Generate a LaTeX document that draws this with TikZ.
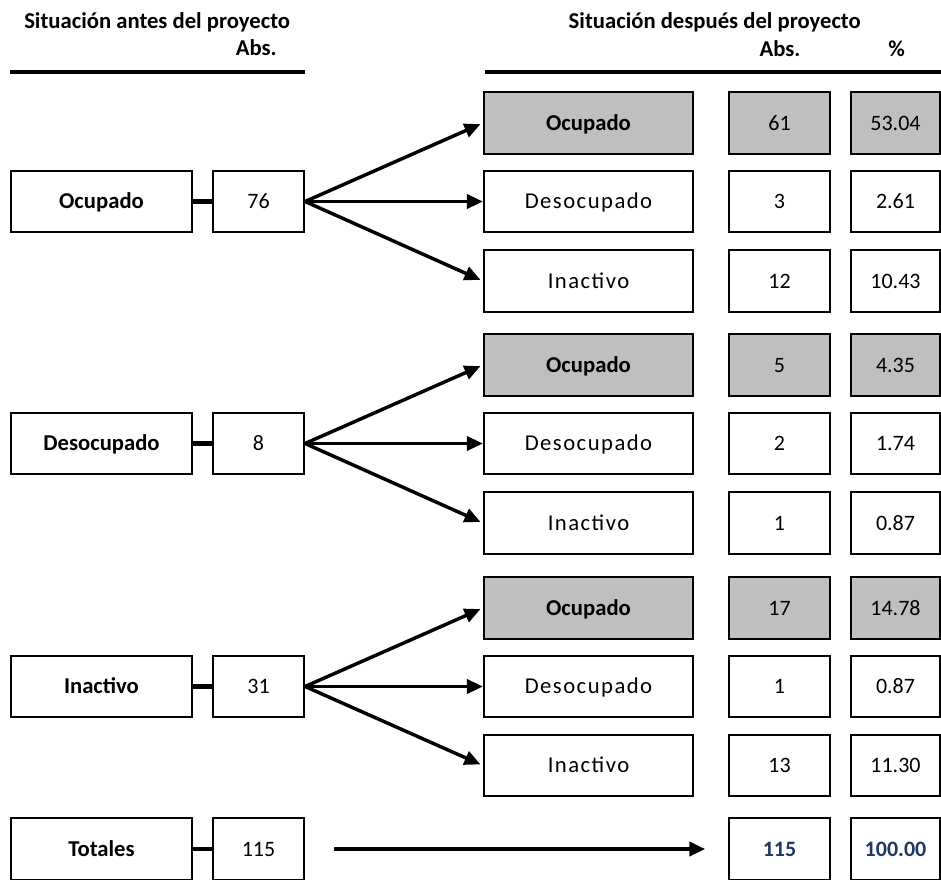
\documentclass[tikz,border=0pt]{standalone}
\usepackage{fontspec}
\setmainfont{Carlito}
\newfontfamily\spacedfont[LetterSpace=6.5]{Carlito}
\usetikzlibrary{arrows.meta}
\definecolor{cellgray}{RGB}{191,191,191}
\definecolor{totblue}{RGB}{31,56,100}

\begin{document}
\begin{tikzpicture}
  [x=0.75pt,y=-0.75pt,
   every node/.style={inner sep=0pt},
   box/.style={draw,line width=1.6pt,minimum height=46pt,
     text height=10.8pt,text depth=0pt,font=\fontsize{17}{20}\selectfont},
   lab/.style={box,minimum width=135.75pt,font=\fontsize{17}{20}\selectfont\bfseries},
   num/.style={box,minimum width=68.25pt,font=\fontsize{16.5}{20}\selectfont},
   res/.style={box,minimum width=156.75pt},
   resocc/.style={res,fill=cellgray,font=\fontsize{17}{20}\selectfont\bfseries},
   resoth/.style={res,font=\fontsize{17}{20}\spacedfont},
   absbox/.style={num,minimum width=75.75pt},
   pctbox/.style={num,minimum width=66.75pt},
   totnum/.style={text=totblue,font=\fontsize{16.5}{20}\selectfont\bfseries},
   head/.style={font=\fontsize{17}{20}\selectfont\bfseries},
   link/.style={line width=3.2pt},
   arr/.style={line width=2.6pt,-{Triangle[length=12pt,width=10.5pt]}}]
  \useasboundingbox (0,0) rectangle (941,879);

  % headings
  \node[head,anchor=base west] (hleft) at (24,28) {Situación antes del proyecto};
  \node[head,anchor=base east] (habsl) at (277,55) {Abs.};
  \node[head,anchor=base east] (hright) at (861,28) {Situación después del proyecto};
  \node[head,anchor=base] (habsr) at (780,56) {Abs.};
  \node[head,anchor=base] (hpct) at (896.5,56) {\%};
  \draw[line width=3.5pt] (10,72) -- (305,72);
  \draw[line width=3.5pt] (485,72) -- (941,72);

  % before the project
  \node[lab] (l1) at (101.5,201.5) {Ocupado};
  \node[num] (n1) at (258.5,201.5) {76};
  \node[lab] (l2) at (101.5,443.5) {Desocupado};
  \node[num] (n2) at (258.5,443.5) {8};
  \node[lab] (l3) at (101.5,686.5) {Inactivo};
  \node[num] (n3) at (258.5,686.5) {31};
  \node[lab] (lt) at (101.5,849) {Totales};
  \node[num] (nt) at (258.5,849) {115};

  % after the project
  \node[resocc] (r11) at (588.5,123) {Ocupado};
  \node[resoth] (r12) at (588.5,201.5) {Desocupado};
  \node[resoth] (r13) at (588.5,281) {Inactivo};
  \node[resocc] (r21) at (588.5,365) {Ocupado};
  \node[resoth] (r22) at (588.5,443.5) {Desocupado};
  \node[resoth] (r23) at (588.5,523) {Inactivo};
  \node[resocc] (r31) at (588.5,608) {Ocupado};
  \node[resoth] (r32) at (588.5,686.5) {Desocupado};
  \node[resoth] (r33) at (588.5,765.5) {Inactivo};

  \node[absbox,fill=cellgray] (a11) at (779.5,123) {61};
  \node[absbox] (a12) at (779.5,201.5) {3};
  \node[absbox] (a13) at (779.5,281) {12};
  \node[absbox,fill=cellgray] (a21) at (779.5,365) {5};
  \node[absbox] (a22) at (779.5,443.5) {2};
  \node[absbox] (a23) at (779.5,523) {1};
  \node[absbox,fill=cellgray] (a31) at (779.5,608) {17};
  \node[absbox] (a32) at (779.5,686.5) {1};
  \node[absbox] (a33) at (779.5,765.5) {13};
  \node[absbox,totnum] (at) at (779.5,849) {115};

  \node[pctbox,fill=cellgray] (p11) at (895.5,123) {53.04};
  \node[pctbox] (p12) at (895.5,201.5) {2.61};
  \node[pctbox] (p13) at (895.5,281) {10.43};
  \node[pctbox,fill=cellgray] (p21) at (895.5,365) {4.35};
  \node[pctbox] (p22) at (895.5,443.5) {1.74};
  \node[pctbox] (p23) at (895.5,523) {0.87};
  \node[pctbox,fill=cellgray] (p31) at (895.5,608) {14.78};
  \node[pctbox] (p32) at (895.5,686.5) {0.87};
  \node[pctbox] (p33) at (895.5,765.5) {11.30};
  \node[pctbox,totnum] (pt) at (895.5,849) {100.00};

  % links and arrows
  \draw[link] (l1) -- (n1);
  \draw[link] (l2) -- (n2);
  \draw[link] (l3) -- (n3);
  \draw[link] (lt) -- (nt);

  \draw[arr,shorten >=2pt] (n1.east) -- (r11.west);
  \draw[arr] (n1.east) -- (r12.west);
  \draw[arr,shorten >=2pt] (n1.east) -- (r13.west);
  \draw[arr,shorten >=2pt] (n2.east) -- (r21.west);
  \draw[arr] (n2.east) -- (r22.west);
  \draw[arr,shorten >=2pt] (n2.east) -- (r23.west);
  \draw[arr,shorten >=2pt] (n3.east) -- (r31.west);
  \draw[arr] (n3.east) -- (r32.west);
  \draw[arr,shorten >=2pt] (n3.east) -- (r33.west);
  \draw[arr,line width=3.4pt,shorten <=22pt,shorten >=17pt] (nt.east) -- (at.west);
\end{tikzpicture}
\end{document}
